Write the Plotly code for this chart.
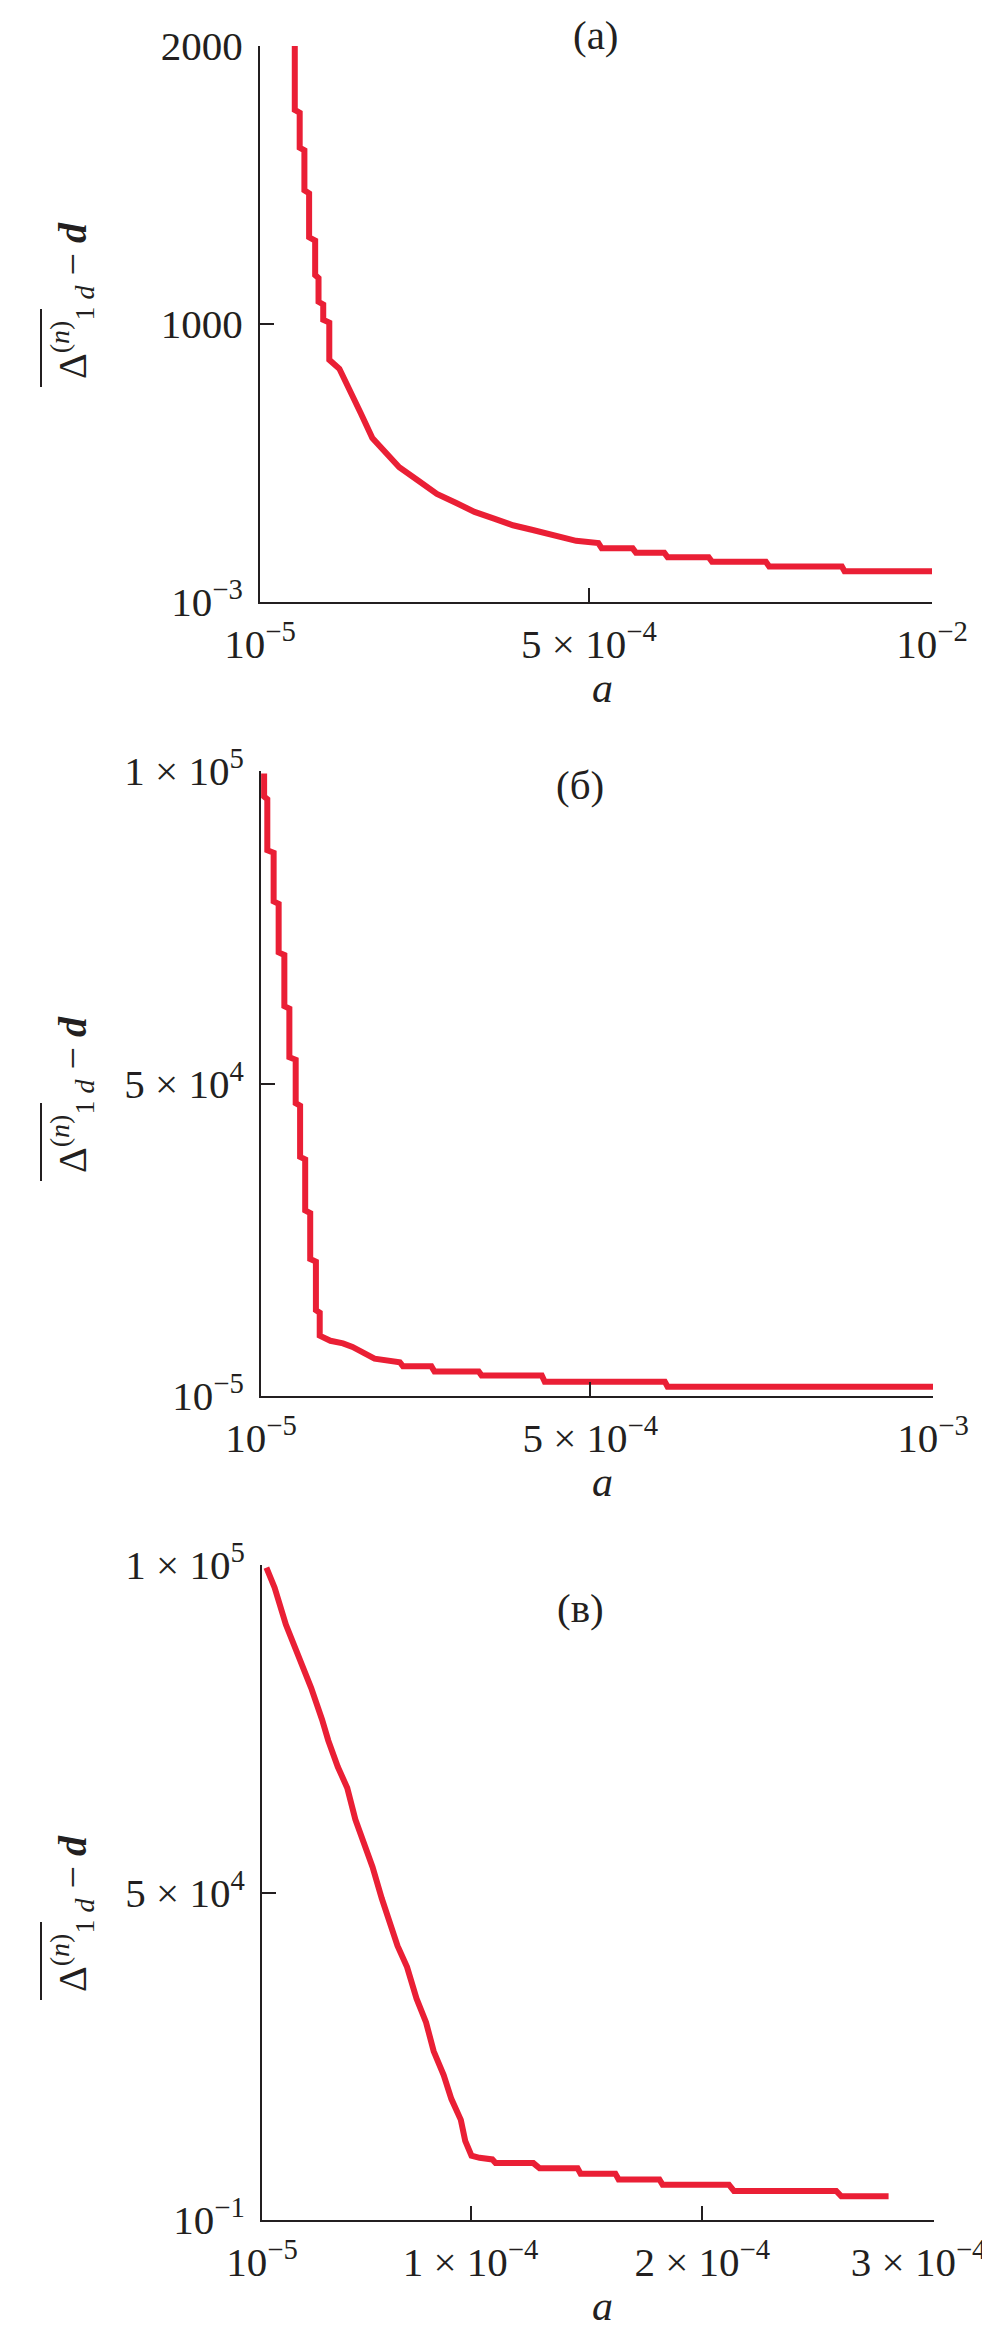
import plotly.graph_objects as go

# ---------------- data ----------------
# panel (a)
a_x = [5.27e-4, 5.27e-4, 6.0e-4, 6.0e-4, 6.7e-4, 6.7e-4, 7.4e-4, 7.4e-4,
       8.3e-4, 8.3e-4, 8.8e-4, 8.8e-4, 9.5e-4, 9.5e-4, 1.04e-3, 1.04e-3,
       1.19e-3, 1.37e-3, 1.51e-3, 1.68e-3, 1.89e-3, 2.08e-3, 2.36e-3, 2.64e-3,
       2.92e-3, 3.2e-3, 3.49e-3, 3.77e-3, 4.05e-3, 4.33e-3, 4.71e-3, 5.04e-3,
       5.09e-3, 5.55e-3, 5.6e-3, 6.02e-3, 6.07e-3, 6.68e-3, 6.73e-3, 7.53e-3,
       7.58e-3, 8.66e-3, 8.7e-3, 1.0e-2]
a_y = [2030, 1770, 1760, 1634, 1625, 1481, 1470, 1312,
       1300, 1176, 1165, 1080, 1070, 1015, 1005, 871,
       839, 742, 678, 590, 533, 485, 437, 389,
       357, 324, 300, 276, 260, 244, 220, 212,
       193, 193, 177, 177, 161, 161, 145, 145,
       128, 128, 111, 111]

# panel (б)
b_x = [1.46e-5, 1.46e-5, 1.93e-5, 1.93e-5, 2.86e-5, 2.86e-5, 3.6e-5, 3.6e-5,
       4.44e-5, 4.44e-5, 5.18e-5, 5.18e-5, 6.11e-5, 6.11e-5, 6.76e-5, 6.76e-5,
       7.51e-5, 7.51e-5, 8.25e-5, 8.25e-5, 9.09e-5, 9.09e-5, 9.65e-5, 9.65e-5,
       1.123e-4, 1.308e-4, 1.448e-4, 1.587e-4, 1.773e-4, 2.145e-4,
       2.192e-4, 2.61e-4, 2.656e-4, 3.307e-4, 3.35e-4, 4.237e-4, 4.28e-4,
       6.049e-4, 6.09e-4, 1.0e-3]
b_y = [99591, 95912, 95503, 87326, 86918, 79150, 78741, 70973,
       70564, 62388, 61979, 54211, 53802, 46852, 46443, 38267,
       37858, 29681, 29272, 21913, 21505, 13737, 13328, 9648,
       8831, 8422, 7850, 7032, 5969, 5400,
       4742, 4742, 3925, 3925, 3271, 3271, 2289,
       2289, 1472, 1472]

# panel (в)
c_x = [1.19e-5, 1.545e-5, 2.03e-5, 2.36e-5, 2.69e-5, 3.12e-5, 3.59e-5, 3.86e-5,
       4.27e-5, 4.68e-5, 5.03e-5, 5.36e-5, 5.77e-5, 6.17e-5, 6.53e-5, 6.85e-5,
       7.26e-5, 7.67e-5, 8.08e-5, 8.41e-5, 8.84e-5, 9.17e-5, 9.58e-5, 9.77e-5,
       1.004e-4, 1.039e-4, 1.094e-4, 1.108e-4, 1.271e-4, 1.298e-4, 1.462e-4,
       1.475e-4, 1.625e-4, 1.639e-4, 1.815e-4, 1.829e-4, 2.115e-4, 2.137e-4,
       2.578e-4, 2.6e-4, 2.804e-4]
c_y = [99598, 96540, 90909, 88093, 85277, 81255, 76428, 73210,
       69187, 65969, 61142, 57924, 53902, 49075, 45052, 41834,
       38616, 33789, 30169, 25744, 22124, 18504, 15286, 12068,
       9815, 9493, 9252, 8689, 8689, 7884, 7884,
       7080, 7080, 6195, 6195, 5390, 5390, 4425,
       4425, 3620, 3620]

# axis ranges and tick labels
a_xrange = [1e-5, 1e-2]
a_xticks = [1e-5, 4.9e-3, 1e-2]
a_xtext = ["10<sup>−5</sup>", "5 × 10<sup>−4</sup>", "10<sup>−2</sup>"]
a_yrange = [1e-3, 2000]
a_yticks = [1e-3, 1000, 2000]
a_ytext = ["10<sup>−3</sup>", "1000", "2000"]

b_xrange = [1e-5, 1e-3]
b_xticks = [1e-5, 4.95e-4, 1e-3]
b_xtext = ["10<sup>−5</sup>", "5 × 10<sup>−4</sup>", "10<sup>−3</sup>"]
b_yrange = [1e-5, 1e5]
b_yticks = [1e-5, 5e4, 1e5]
b_ytext = ["10<sup>−5</sup>", "5 × 10<sup>4</sup>", "1 × 10<sup>5</sup>"]

c_xrange = [1e-5, 3e-4]
c_xticks = [1e-5, 1e-4, 2e-4, 3e-4]
c_xtext = ["10<sup>−5</sup>", "1 × 10<sup>−4</sup>", "2 × 10<sup>−4</sup>",
           "3 × 10<sup>−4</sup>\u00a0\u00a0\u00a0"]
c_yrange = [0.1, 1e5]
c_yticks = [0.1, 5e4, 1e5]
c_ytext = ["10<sup>−1</sup>", "5 × 10<sup>4</sup>", "1 × 10<sup>5</sup>"]

panel_labels = ["(a)", "(б)", "(в)"]
x_title = "<i>a</i>"
y_title = "Δ<sup>(<i>n</i>)</sup><sub>1 <i>d</i></sub> − <b><i>d</i></b>"

# ---------------- layout helpers ----------------
W, H = 990, 2327
FONT = "Liberation Serif"
INK = "#231f20"
RED = "#ea1f35"


def px(x):
    return x / W


def py(y):
    return 1 - y / H


# pixel boxes: left, right, top, bottom
boxes = [(252, 924, 38, 594), (253, 925, 763, 1388), (254, 926, 1557, 2212)]

fig = go.Figure()
series = [(a_x, a_y), (b_x, b_y), (c_x, c_y)]
for i, (xs, ys) in enumerate(series):
    sfx = "" if i == 0 else str(i + 1)
    fig.add_trace(go.Scatter(x=xs, y=ys, mode="lines",
                             line=dict(color=RED, width=6),
                             xaxis="x" + sfx, yaxis="y" + sfx,
                             showlegend=False, hoverinfo="skip"))

xr = [a_xrange, b_xrange, c_xrange]
xt = [a_xticks, b_xticks, c_xticks]
xtt = [a_xtext, b_xtext, c_xtext]
yr = [a_yrange, b_yrange, c_yrange]
yt = [a_yticks, b_yticks, c_yticks]
ytt = [a_ytext, b_ytext, c_ytext]

layout = dict(width=W, height=H, margin=dict(l=0, r=0, t=0, b=0, autoexpand=False),
              paper_bgcolor="white", plot_bgcolor="white",
              font=dict(family=FONT, color=INK, size=41), showlegend=False)

annotations = []
shapes = []
label_x = [588, 572, 572]
label_y = [27, 777, 1600]
title_y = [293, 1087, 1906]
for i, (l, r, t, b) in enumerate(boxes):
    sfx = "" if i == 0 else str(i + 1)
    common = dict(showline=True, linecolor=INK, linewidth=2, ticks="inside",
                  ticklen=14, tickwidth=2, tickcolor=INK, showgrid=False,
                  zeroline=False, mirror=False, automargin=False,
                  ticklabeloverflow="allow",
                  tickfont=dict(family=FONT, size=41, color=INK))
    layout["xaxis" + sfx] = dict(common, domain=[px(l), px(r)], range=xr[i],
                                 tickmode="array", tickvals=xt[i], ticktext=xtt[i],
                                 anchor="y" + sfx, ticklabelstandoff=5)
    layout["yaxis" + sfx] = dict(common, domain=[py(b), py(t)], range=yr[i],
                                 tickmode="array", tickvals=yt[i], ticktext=ytt[i],
                                 anchor="x" + sfx, ticklabelstandoff=7)
    # panel label
    annotations.append(dict(text=panel_labels[i], x=px(label_x[i]), y=py(label_y[i]),
                            xref="paper", yref="paper", showarrow=False,
                            xanchor="center", yanchor="middle",
                            font=dict(family=FONT, size=41, color=INK)))
    # x title
    annotations.append(dict(text=x_title, x=px(594), y=py(b + 86),
                            xref="paper", yref="paper", showarrow=False,
                            xanchor="center", yanchor="middle",
                            font=dict(family=FONT, size=42, color=INK)))
    # y title (rotated)
    annotations.append(dict(text=y_title, x=px(64), y=py(title_y[i]),
                            xref="paper", yref="paper", showarrow=False,
                            textangle=-90, xanchor="center", yanchor="middle",
                            font=dict(family=FONT, size=40, color=INK)))
    # overline over Δ(n)
    ybot = title_y[i] + 86
    shapes.append(dict(type="line", xref="paper", yref="paper",
                       x0=px(33), x1=px(33), y0=py(ybot), y1=py(ybot - 78),
                       line=dict(color=INK, width=2)))

layout["annotations"] = annotations
layout["shapes"] = shapes
fig.update_layout(**layout)
fig.write_html("out.html")
